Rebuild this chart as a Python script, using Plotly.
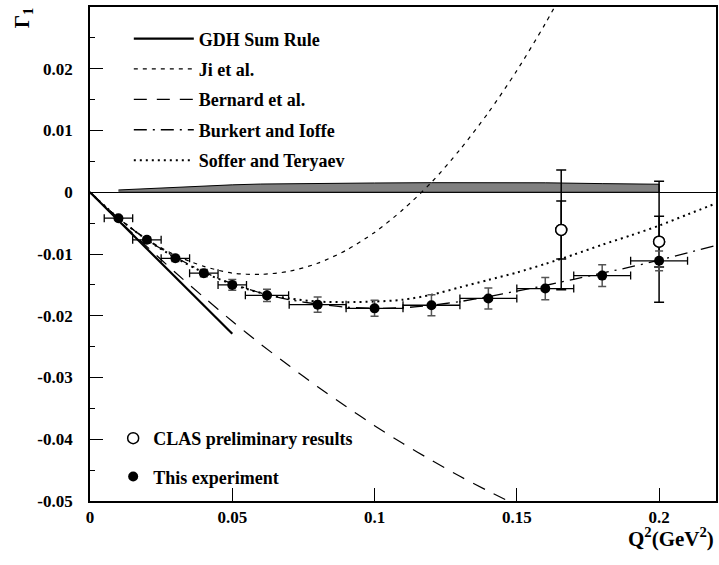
import plotly.graph_objects as go

# ---------------- data ----------------
gdh_q = [0.0, 0.05]
gdh_g = [0.0, -0.0229]

ji_q = [0.0, 0.01, 0.02, 0.03, 0.04, 0.05, 0.06, 0.07, 0.08, 0.09, 0.10,
        0.11, 0.12, 0.13, 0.14, 0.15, 0.16, 0.17]
ji_g = [0.0, -0.0042, -0.0076, -0.0102, -0.0120, -0.0131, -0.0133, -0.0128,
        -0.0115, -0.0094, -0.0065, -0.0028, 0.0016, 0.0069, 0.0129, 0.0197,
        0.0273, 0.0357]

bern_q = [0.0, 0.01, 0.02, 0.03, 0.04, 0.05, 0.06, 0.07, 0.08, 0.09, 0.10,
          0.11, 0.12, 0.13, 0.14, 0.15]
bern_g = [0.0, -0.0045, -0.0088, -0.0130, -0.0170, -0.0209, -0.0246, -0.0281,
          -0.0315, -0.0347, -0.0378, -0.0407, -0.0434, -0.0460, -0.0484, -0.0507]

burk_q = [0.0, 0.01, 0.02, 0.03, 0.04, 0.05, 0.06, 0.07, 0.08, 0.09, 0.10, 0.11,
          0.12, 0.13, 0.14, 0.15, 0.16, 0.17, 0.18, 0.19, 0.20, 0.21, 0.22]
burk_g = [0.0, -0.0042, -0.0077, -0.0105, -0.0129, -0.0148, -0.0163, -0.0174,
          -0.0181, -0.0186, -0.0188, -0.0187, -0.0183, -0.0177, -0.0169, -0.0160,
          -0.0151, -0.0141, -0.0131, -0.0121, -0.0110, -0.0098, -0.0086]

soff_q = [0.0, 0.01, 0.02, 0.03, 0.04, 0.05, 0.06, 0.07, 0.08, 0.09, 0.10, 0.11,
          0.12, 0.13, 0.14, 0.15, 0.16, 0.17, 0.18, 0.19, 0.20, 0.21, 0.22]
soff_g = [0.0, -0.0042, -0.0077, -0.0106, -0.0130, -0.0149, -0.0163, -0.0172,
          -0.0177, -0.0178, -0.0177, -0.0174, -0.0166, -0.0154, -0.0142, -0.0130,
          -0.0116, -0.0101, -0.0085, -0.0070, -0.0054, -0.0036, -0.0018]

exp_q = [0.01, 0.02, 0.03, 0.04, 0.05, 0.0622, 0.08, 0.10, 0.12, 0.14, 0.16, 0.18, 0.20]
exp_g = [-0.0042, -0.0077, -0.0107, -0.0131, -0.0150, -0.0167, -0.0182, -0.0188,
         -0.0183, -0.0172, -0.0156, -0.0135, -0.0111]
exp_err = [0.0003, 0.0004, 0.0005, 0.0006, 0.00086, 0.0010, 0.00124, 0.0013,
           0.0017, 0.0017, 0.0018, 0.00175, 0.0016]
exp_bin = [0.005, 0.005, 0.005, 0.005, 0.005, 0.0076, 0.01, 0.01, 0.01, 0.01,
           0.01, 0.01, 0.01]

clas_q = [0.1656, 0.20]
clas_g = [-0.0061, -0.0080]
clas_stat = [0.0047, 0.0041]
clas_tot = [0.0097, 0.0098]

band_q = [0.01, 0.02, 0.03, 0.04, 0.05, 0.06, 0.08, 0.10, 0.12, 0.14, 0.16, 0.18, 0.20]
band_top = [0.00037, 0.0006, 0.0008, 0.0010, 0.0012, 0.00133, 0.00145, 0.0015,
            0.00155, 0.00156, 0.00153, 0.0014, 0.0013]

x_tickvals = [0, 0.05, 0.1, 0.15, 0.2]
x_ticktext = ["0", "0.05", "0.1", "0.15", "0.2"]
y_tickvals = [-0.05, -0.04, -0.03, -0.02, -0.01, 0, 0.01, 0.02, 0.03]
y_ticktext = ["-0.05", "-0.04", "-0.03", "-0.02", "-0.01", "0", "0.01", "0.02", "0.03"]

# ---------------- figure ----------------
FONT = "Liberation Serif"
fig = go.Figure()

# systematic band
fig.add_trace(go.Scatter(
    x=band_q + band_q[::-1], y=band_top + [0.0] * len(band_q),
    fill="toself", fillcolor="#808080", mode="lines",
    line=dict(color="black", width=1), showlegend=False, hoverinfo="skip"))

curve_specs = [
    ("GDH Sum Rule", gdh_q, gdh_g, "solid", 2.2, "g1"),
    ("Ji et al.", ji_q, ji_g, "4px,5px", 1.2, "g2"),
    ("Bernard et al.", bern_q, bern_g, "13px,10px", 1.2, "g3"),
    ("Burkert and Ioffe", burk_q, burk_g, "13px,6px,2px,6px", 1.3, "g4"),
    ("Soffer and Teryaev", soff_q, soff_g, "2px,4px", 2.0, "g5"),
]
for name, xs, ys, dash, w, grp in curve_specs:
    fig.add_trace(go.Scatter(
        x=xs, y=ys, mode="lines", name="<b>" + name + "</b>", legendgroup=grp,
        legend="legend",
        line=dict(color="black", width=w, dash=dash, shape="spline", smoothing=0.8)))

# CLAS preliminary results: total error then statistical error
fig.add_trace(go.Scatter(
    x=clas_q, y=clas_g, mode="markers", showlegend=False,
    marker=dict(size=11, color="white", line=dict(color="black", width=1.5)),
    error_y=dict(type="data", array=clas_tot, color="black", thickness=1.5, width=5)))
fig.add_trace(go.Scatter(
    x=clas_q, y=clas_g, mode="markers", name="<b>CLAS preliminary results</b>",
    legend="legend2", legendgroup="c1",
    marker=dict(size=11, color="white", line=dict(color="black", width=1.5)),
    error_y=dict(type="data", array=clas_stat, color="black", thickness=1.5, width=5)))

# This experiment
fig.add_trace(go.Scatter(
    x=exp_q, y=exp_g, mode="markers", name="<b>This experiment</b>",
    legend="legend2", legendgroup="c2",
    marker=dict(size=10, color="black"),
    error_x=dict(type="data", array=exp_bin, color="black", thickness=1.3, width=4),
    error_y=dict(type="data", array=exp_err, color="#555555", thickness=1.5, width=4)))

tickfont = dict(family=FONT, size=17, color="black", weight="bold")
fig.update_layout(
    width=719, height=565,
    margin=dict(l=90, r=1, t=7, b=64),
    paper_bgcolor="white", plot_bgcolor="white",
    font=dict(family=FONT, color="black"),
    xaxis=dict(range=[0, 0.22], showline=True, mirror=True, linecolor="black",
               linewidth=1.5, ticks="inside", ticklen=13, tickwidth=1.3,
               tickcolor="black", tickvals=x_tickvals, ticktext=x_ticktext,
               tickfont=tickfont, showgrid=False, zeroline=False,
               ticklabelstandoff=0),
    yaxis=dict(range=[-0.05, 0.03], showline=True, mirror=True, linecolor="black",
               linewidth=1.8, ticks="inside", ticklen=13, tickwidth=1.3,
               tickcolor="black", tickvals=y_tickvals, ticktext=y_ticktext,
               tickfont=tickfont, showgrid=False, zeroline=True,
               zerolinecolor="black", zerolinewidth=1.3, ticklabelstandoff=12,
               minor=dict(tickmode="linear", tick0=0, dtick=0.005, ticks="inside",
                          ticklen=5, tickwidth=1, tickcolor="black", showgrid=False)),
    legend=dict(x=0.062, y=0.973, xanchor="left", yanchor="top",
                bgcolor="rgba(0,0,0,0)", borderwidth=0, itemwidth=60,
                tracegroupgap=4, traceorder="grouped",
                font=dict(family=FONT, size=18, color="black")),
    legend2=dict(x=0.037, y=0.164, xanchor="left", yanchor="top",
                 bgcolor="rgba(0,0,0,0)", borderwidth=0, itemwidth=30,
                 tracegroupgap=12, traceorder="grouped",
                 font=dict(family=FONT, size=18, color="black")),
    annotations=[
        dict(text="<b>Γ<sub>1</sub></b>", xref="paper", yref="paper", x=-0.108, y=0.978,
             xanchor="center", yanchor="middle", textangle=-90, showarrow=False,
             font=dict(family=FONT, size=21, color="black")),
        dict(text="<b>Q<sup>2</sup>(GeV<sup>2</sup>)</b>", xref="paper", yref="paper",
             x=1.0, y=-0.073, xanchor="right", yanchor="middle", showarrow=False,
             font=dict(family=FONT, size=21, color="black")),
    ],
)

fig.write_html("out.html")
